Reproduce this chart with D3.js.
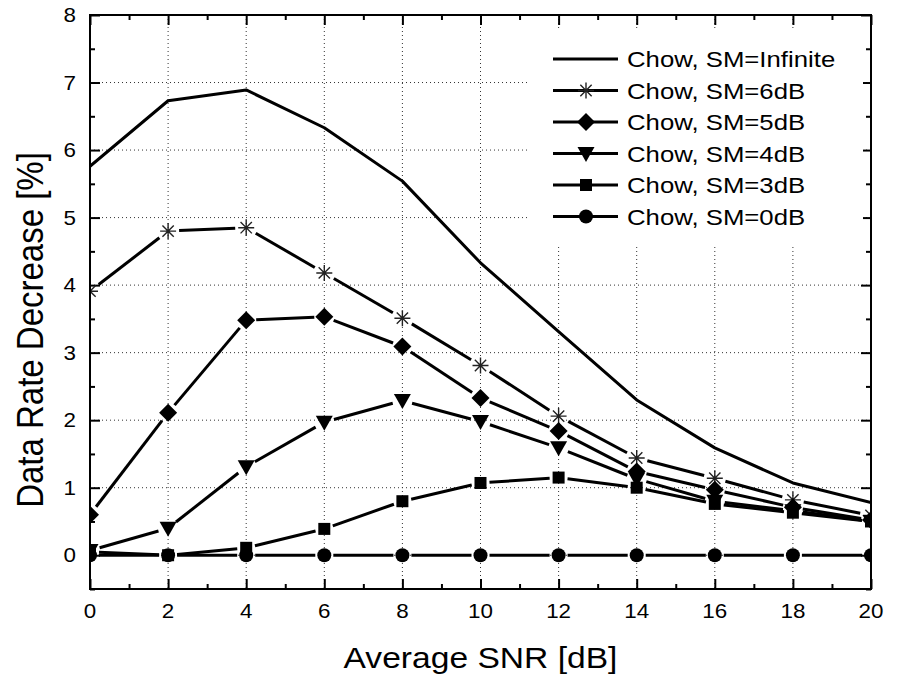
<!DOCTYPE html>
<html>
<head>
<meta charset="utf-8">
<script src="https://cdn.jsdelivr.net/npm/d3@7"></script>
<style>
  body { margin: 0; background: #fff; }
  text { font-family: Arial, "Liberation Sans", sans-serif; fill: #000; }
</style>
</head>
<body>
<svg id="chart" width="899" height="678"></svg>
<script>
// Average SNR (dB) on the x axis
const snr = [0, 2, 4, 6, 8, 10, 12, 14, 16, 18, 20];

// Data rate decrease (%) per safety margin
const smInfinite = [5.76, 6.73, 6.89, 6.33, 5.54, 4.33, 3.31, 2.30, 1.59, 1.07, 0.78];
const sm6dB      = [3.91, 4.80, 4.85, 4.18, 3.51, 2.81, 2.06, 1.44, 1.14, 0.82, 0.59];
const sm5dB      = [0.60, 2.11, 3.48, 3.53, 3.09, 2.33, 1.84, 1.24, 0.97, 0.71, 0.52];
const sm4dB      = [0.07, 0.40, 1.31, 1.97, 2.29, 1.98, 1.59, 1.13, 0.80, 0.66, 0.50];
const sm3dB      = [0.05, 0.00, 0.11, 0.39, 0.80, 1.07, 1.15, 1.00, 0.76, 0.63, 0.50];
const sm0dB      = [0, 0, 0, 0, 0, 0, 0, 0, 0, 0, 0];

const seriesNames = ["Chow, SM=Infinite", "Chow, SM=6dB", "Chow, SM=5dB",
                     "Chow, SM=4dB", "Chow, SM=3dB", "Chow, SM=0dB"];
const seriesValues = [smInfinite, sm6dB, sm5dB, sm4dB, sm3dB, sm0dB];
const seriesMarkers = ["none", "star", "diamond", "triangle", "square", "circle"];

const xTicks = [0, 2, 4, 6, 8, 10, 12, 14, 16, 18, 20];
const yTicks = [0, 1, 2, 3, 4, 5, 6, 7, 8];

const svg = d3.select("#chart");
const pL = 90, pR = 871, pT = 15, pB = 589;

const x = d3.scaleLinear().domain([0, 20]).range([pL, pR]);
const y = d3.scaleLinear().domain([-0.5, 8]).range([pB, pT]);

svg.append("defs").append("clipPath").attr("id", "plotArea")
  .append("rect").attr("x", pL).attr("y", pT)
  .attr("width", pR - pL).attr("height", pB - pT);

// dotted grid at major ticks
const grid = svg.append("g").attr("stroke", "#333").attr("stroke-width", 1)
  .attr("stroke-dasharray", "1,3");
xTicks.slice(1, -1).forEach(t => grid.append("line")
  .attr("x1", x(t)).attr("x2", x(t)).attr("y1", pT).attr("y2", pB));
yTicks.forEach(t => grid.append("line")
  .attr("x1", pL).attr("x2", pR).attr("y1", y(t)).attr("y2", y(t)));

// inward ticks on all four sides
function sideAxis(axisFn, scale, values, size, transform) {
  const g = svg.append("g").attr("transform", transform)
    .call(axisFn(scale).tickValues(values).tickSize(size).tickFormat(""));
  g.select(".domain").remove();
  g.selectAll(".tick line").attr("stroke", "#000").attr("stroke-width", 2);
}
const xMinor = d3.range(1, 20, 2);
const yMinor = d3.range(-0.5, 8, 1);
sideAxis(d3.axisTop, x, xTicks, 10, `translate(0,${pB})`);
sideAxis(d3.axisTop, x, xMinor, 5, `translate(0,${pB})`);
sideAxis(d3.axisBottom, x, xTicks, 10, `translate(0,${pT})`);
sideAxis(d3.axisBottom, x, xMinor, 5, `translate(0,${pT})`);
sideAxis(d3.axisRight, y, yTicks, 10, `translate(${pL},0)`);
sideAxis(d3.axisRight, y, yMinor, 5, `translate(${pL},0)`);
sideAxis(d3.axisLeft, y, yTicks, 10, `translate(${pR},0)`);
sideAxis(d3.axisLeft, y, yMinor, 5, `translate(${pR},0)`);

// tick labels
const sx = 1.12;
function hText(g, tx, ty, str, size, anchor) {
  return g.append("text").attr("transform", `translate(${tx},${ty}) scale(${sx},1)`)
    .attr("font-size", size).attr("text-anchor", anchor).text(str);
}
const labels = svg.append("g");
xTicks.forEach(t => hText(labels, x(t), 618, String(t), 20, "middle"));
yTicks.forEach(t => hText(labels, 76, y(t) + 7, String(t), 20, "end"));

// axis titles
hText(svg, (pL + pR) / 2, 668, "Average SNR [dB]", 30, "middle");
svg.append("text")
  .attr("transform", `translate(43,330) rotate(-90) scale(1,${sx})`)
  .attr("font-size", 33).attr("text-anchor", "middle")
  .text("Data Rate Decrease [%]");

// marker shapes
function drawMarker(g, kind, cx, cy) {
  if (kind === "star") {
    const r = 8, d = r * Math.SQRT1_2;
    g.append("path")
      .attr("d", `M${cx - r},${cy}H${cx + r}M${cx},${cy - r}V${cy + r}` +
                 `M${cx - d},${cy - d}L${cx + d},${cy + d}M${cx - d},${cy + d}L${cx + d},${cy - d}`)
      .attr("stroke", "#222").attr("stroke-width", 1.4).attr("fill", "none");
  } else if (kind === "diamond") {
    const r = 9;
    g.append("path").attr("d", `M${cx},${cy - r}L${cx + r},${cy}L${cx},${cy + r}L${cx - r},${cy}Z`)
      .attr("fill", "#000");
  } else if (kind === "triangle") {
    g.append("path").attr("d", `M${cx - 8.5},${cy - 6.5}L${cx + 8.5},${cy - 6.5}L${cx},${cy + 8.5}Z`)
      .attr("fill", "#000");
  } else if (kind === "square") {
    g.append("rect").attr("x", cx - 6).attr("y", cy - 6).attr("width", 12).attr("height", 12)
      .attr("fill", "#000");
  } else if (kind === "circle") {
    g.append("circle").attr("cx", cx).attr("cy", cy).attr("r", 7).attr("fill", "#000");
  }
}
const gapFor = { none: 0, star: 11, diamond: 10, triangle: 10, square: 9, circle: 9 };

// series: line segments with small gaps around the markers, clipped to the frame
const plot = svg.append("g").attr("clip-path", "url(#plotArea)");
seriesValues.forEach((vals, i) => {
  const kind = seriesMarkers[i];
  const pts = vals.map((v, j) => [x(snr[j]), y(v)]);
  const g = plot.append("g");
  if (kind === "none") {
    g.append("path").attr("d", d3.line()(pts))
      .attr("fill", "none").attr("stroke", "#000").attr("stroke-width", 3)
      .attr("stroke-linejoin", "round");
    return;
  }
  const gap = gapFor[kind];
  for (let j = 0; j < pts.length - 1; j++) {
    const [x0, y0] = pts[j], [x1, y1] = pts[j + 1];
    const len = Math.hypot(x1 - x0, y1 - y0);
    if (len <= 2 * gap) continue;
    const ux = (x1 - x0) / len, uy = (y1 - y0) / len;
    g.append("line")
      .attr("x1", x0 + ux * gap).attr("y1", y0 + uy * gap)
      .attr("x2", x1 - ux * gap).attr("y2", y1 - uy * gap)
      .attr("stroke", "#000").attr("stroke-width", 3);
  }
  pts.forEach(([cx, cy]) => drawMarker(g, kind, cx, cy));
});

// frame
svg.append("rect").attr("x", pL).attr("y", pT)
  .attr("width", pR - pL).attr("height", pB - pT)
  .attr("fill", "none").attr("stroke", "#000").attr("stroke-width", 2);

// legend
const legend = svg.append("g");
legend.append("rect").attr("x", 527).attr("y", 30).attr("width", 336).attr("height", 216)
  .attr("fill", "#fff");
seriesNames.forEach((name, i) => {
  const ly = 59 + i * 31.5;
  legend.append("line").attr("x1", 553).attr("x2", 618).attr("y1", ly).attr("y2", ly)
    .attr("stroke", "#000").attr("stroke-width", 3);
  drawMarker(legend, seriesMarkers[i], 586, ly);
  hText(legend, 627, ly + 8, name, 23, "start");
});
</script>
</body>
</html>
